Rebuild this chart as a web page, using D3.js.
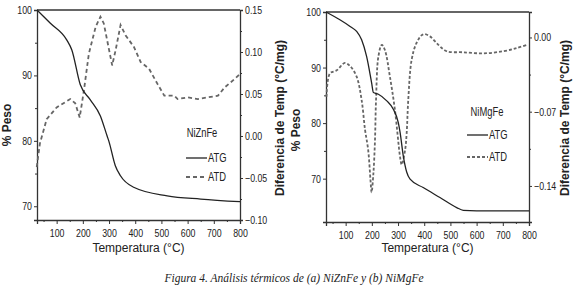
<!DOCTYPE html>
<html>
<head>
<meta charset="utf-8">
<script src="https://cdn.jsdelivr.net/npm/d3@7"></script>
<style>
  body { margin: 0; background: #fff; }
  svg text { font-family: "Liberation Sans", Arial, sans-serif; fill: #222; }
  .caption { font-family: "Liberation Serif", "DejaVu Serif", serif; font-style: italic; }
</style>
</head>
<body>
<div id="chart"></div>
<script>
// ---- (a) NiZnFe ----
const znAtgT    = [25, 75, 139, 158, 190, 228, 267, 293, 299, 324, 343, 394, 522, 650, 800];
const znAtgPeso = [100, 98.0, 95.4, 93.9, 88.6, 86.3, 83.8, 80.7, 80.0, 76.2, 74.7, 72.9, 71.6, 71.1, 70.7];
const znAtdT    = [24, 36, 62, 100, 152, 171, 188, 204, 223, 249, 267, 280, 312, 325, 344, 363, 395, 421, 453, 485, 511, 549, 562, 600, 639, 716, 742, 780, 800];
const znAtdVal  = [-0.037, -0.009, 0.020, 0.034, 0.044, 0.039, 0.022, 0.054, 0.098, 0.130, 0.142, 0.134, 0.084, 0.102, 0.132, 0.120, 0.106, 0.088, 0.080, 0.062, 0.048, 0.048, 0.044, 0.046, 0.044, 0.048, 0.058, 0.068, 0.074];

// ---- (b) NiMgFe ----
const mgAtgT    = [25, 78, 117, 142, 161, 180, 199, 206, 225, 257, 282, 301, 308, 320, 333, 346, 396, 460, 524, 549, 651, 800];
const mgAtgPeso = [100, 98.6, 97.4, 96.5, 95.0, 92.0, 87.3, 85.5, 85.2, 84.0, 82.5, 80.1, 78.3, 74.1, 71.2, 69.9, 68.4, 66.6, 64.8, 64.3, 64.2, 64.2];
const mgAtdT    = [27, 40, 66, 97, 117, 142, 161, 174, 186, 195, 199, 206, 212, 216, 225, 238, 250, 269, 288, 308, 314, 327, 333, 339, 352, 371, 396, 422, 454, 486, 549, 626, 702, 753, 791];
const mgAtdVal  = [-0.056, -0.034, -0.031, -0.024, -0.027, -0.037, -0.059, -0.087, -0.106, -0.135, -0.146, -0.128, -0.097, -0.059, -0.018, -0.007, -0.012, -0.037, -0.068, -0.113, -0.120, -0.106, -0.090, -0.059, -0.021, -0.005, 0.003, 0.001, -0.007, -0.013, -0.014, -0.015, -0.013, -0.010, -0.007];

const xTicks = [100, 200, 300, 400, 500, 600, 700, 800];
const pesoTicks = [70, 80, 90, 100];
const znAtdTicks = [-0.10, -0.05, 0.00, 0.05, 0.10, 0.15];
const mgAtdTicks = [-0.14, -0.07, 0.00];

const W = 580, H = 289;
const svg = d3.select('#chart').append('svg').attr('width', W).attr('height', H);

// the original uses a narrow sans; squeeze the glyphs horizontally
function squeeze(sel, f) {
  sel.each(function () {
    const len = this.getComputedTextLength();
    d3.select(this).attr('textLength', len * f).attr('lengthAdjust', 'spacingAndGlyphs');
  });
}

function drawPanel(p) {
  const x = d3.scaleLinear().domain([25, 800]).range([p.left, p.right]);
  const yL = d3.scaleLinear().domain(p.pesoDomain).range([p.bottom, p.top]);
  const yR = d3.scaleLinear().domain(p.atdDomain).range([p.bottom, p.top]);
  const g = svg.append('g');

  // top border
  g.append('line').attr('x1', p.left).attr('x2', p.right).attr('y1', p.top).attr('y2', p.top)
    .attr('stroke', '#333').attr('stroke-width', 1.3);

  // minor ticks
  const minorX = d3.range(50, 801, 50).filter(v => v % 100 !== 0);
  g.append('g').attr('transform', `translate(0,${p.bottom})`)
    .call(d3.axisBottom(x).tickValues(minorX).tickSize(2).tickFormat(''))
    .call(a => a.select('.domain').remove());
  g.append('g').attr('transform', `translate(${p.right},0)`)
    .call(d3.axisRight(yR).tickValues(p.atdMinor).tickSize(2).tickFormat(''))
    .call(a => a.select('.domain').remove());
  g.append('g').attr('transform', `translate(${p.left},0)`)
    .call(d3.axisLeft(yL).tickValues([75, 85, 95]).tickSize(2).tickFormat(''))
    .call(a => a.select('.domain').remove());

  const ax = g.append('g').attr('transform', `translate(0,${p.bottom})`)
    .call(d3.axisBottom(x).tickValues(xTicks).tickSize(4).tickPadding(5));
  const ayL = g.append('g').attr('transform', `translate(${p.left},0)`)
    .call(d3.axisLeft(yL).tickValues(pesoTicks).tickSize(3).tickPadding(2));
  const ayR = g.append('g').attr('transform', `translate(${p.right},0)`)
    .call(d3.axisRight(yR).tickValues(p.atdTicks).tickSize(3).tickPadding(2).tickFormat(d3.format('.2f')));

  [ax, ayL, ayR].forEach(a => {
    a.select('.domain').attr('stroke', '#333').attr('stroke-width', 1.3);
    a.selectAll('text').attr('font-size', '11px').attr('fill', '#222')
      .style('font-family', '"Liberation Sans", Arial, sans-serif');
    squeeze(a.selectAll('text'), 0.8);
  });
  g.selectAll('.tick line').attr('stroke', '#333');

  // ATD (grey dashed)
  g.append('path')
    .datum(p.atdT.map((t, i) => [t, p.atdVal[i]]))
    .attr('fill', 'none').attr('stroke', '#666').attr('stroke-width', 1.8)
    .attr('stroke-dasharray', p.dash)
    .attr('d', d3.line().x(d => x(d[0])).y(d => yR(d[1])).curve(p.atdCurve));

  // ATG (solid)
  g.append('path')
    .datum(p.atgT.map((t, i) => [t, p.atgPeso[i]]))
    .attr('fill', 'none').attr('stroke', '#222').attr('stroke-width', 1.3)
    .attr('d', d3.line().x(d => x(d[0])).y(d => yL(d[1])).curve(d3.curveMonotoneX));

  // axis titles
  g.append('text').attr('x', (p.left + p.right) / 2).attr('y', 252)
    .attr('text-anchor', 'middle').attr('font-size', '12px').text('Temperatura (°C)');
  g.append('text').attr('transform', `translate(${p.left - 26},${p.pesoLabelY}) rotate(-90)`)
    .attr('text-anchor', 'middle').attr('font-size', '12px').attr('font-weight', 'bold').text('% Peso');
  g.append('text').attr('transform', `translate(${p.right + p.atdLabelDx},${p.atdLabelY}) rotate(-90)`)
    .attr('text-anchor', 'middle').attr('font-size', '12px').attr('font-weight', 'bold')
    .text('Diferencia de Temp (°C/mg)');

  // legend
  const lg = g.append('g');
  const leg = [];
  leg.push(lg.append('text').attr('x', p.nameX).attr('y', p.legY[0] + 4).attr('text-anchor', 'middle')
    .attr('font-size', '12px').text(p.name));
  lg.append('line').attr('x1', p.legX).attr('x2', p.legX + 21)
    .attr('y1', p.legY[1]).attr('y2', p.legY[1])
    .attr('stroke', '#222').attr('stroke-width', 1.3);
  leg.push(lg.append('text').attr('x', p.legX + 22).attr('y', p.legY[1] + 4).attr('font-size', '12px').text('ATG'));
  lg.append('line').attr('x1', p.legX).attr('x2', p.legX + 21)
    .attr('y1', p.legY[2]).attr('y2', p.legY[2])
    .attr('stroke', '#666').attr('stroke-width', 1.8).attr('stroke-dasharray', p.dash);
  leg.push(lg.append('text').attr('x', p.legX + 22).attr('y', p.legY[2] + 4).attr('font-size', '12px').text('ATD'));
  leg.forEach(t => squeeze(t, 0.78));
}

drawPanel({
  left: 37, right: 240, top: 10, bottom: 220,
  pesoDomain: [67.9, 100], atdDomain: [-0.10, 0.15],
  atdTicks: znAtdTicks, atdMinor: [-0.075, -0.025, 0.025, 0.075, 0.125],
  atgT: znAtgT, atgPeso: znAtgPeso, atdT: znAtdT, atdVal: znAtdVal,
  atdCurve: d3.curveLinear, dash: '4,3',
  pesoLabelY: 125, atdLabelY: 118, atdLabelDx: 44,
  name: 'NiZnFe', nameX: 202, legX: 186, legY: [133, 158, 177]
});

drawPanel({
  left: 326, right: 529, top: 12, bottom: 222,
  pesoDomain: [62.2, 100], atdDomain: [-0.174, 0.024],
  atdTicks: mgAtdTicks, atdMinor: [-0.105, -0.035],
  atgT: mgAtgT, atgPeso: mgAtgPeso, atdT: mgAtdT, atdVal: mgAtdVal,
  atdCurve: d3.curveCatmullRom, dash: '3,2',
  pesoLabelY: 130, atdLabelY: 118, atdLabelDx: 40,
  name: 'NiMgFe', nameX: 487, legX: 467, legY: [112, 135, 157]
});

svg.append('text').attr('class', 'caption')
  .attr('x', 294).attr('y', 282).attr('text-anchor', 'middle').attr('font-size', '11.5px')
  .text('Figura 4. Análisis térmicos de (a) NiZnFe y (b) NiMgFe');
</script>
</body>
</html>
